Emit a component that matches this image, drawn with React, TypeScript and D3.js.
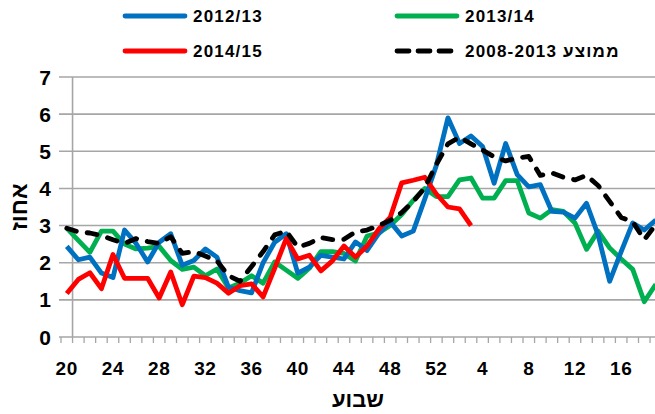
import React from "react";
import * as d3 from "d3";

// weeks of the season, from week 20 through week 19 of the next year
const weeks = [
  20, 21, 22, 23, 24, 25, 26, 27, 28, 29, 30, 31, 32, 33, 34, 35, 36, 37, 38, 39,
  40, 41, 42, 43, 44, 45, 46, 47, 48, 49, 50, 51, 52, 1, 2, 3, 4, 5, 6, 7,
  8, 9, 10, 11, 12, 13, 14, 15, 16, 17, 18, 19,
];
const tickWeeks = [20, 24, 28, 32, 36, 40, 44, 48, 52, 4, 8, 12, 16];
const yTicks = [0, 1, 2, 3, 4, 5, 6, 7];

const s2012 = [
  2.44, 2.08, 2.15, 1.72, 1.6, 2.88, 2.52, 2.02, 2.55, 2.78,
  1.93, 2.06, 2.37, 2.15, 1.34, 1.25, 1.19, 2.0, 2.55, 2.78,
  1.72, 1.88, 2.2, 2.15, 2.1, 2.56, 2.33, 2.78, 3.1, 2.72,
  2.85, 3.72, 4.62, 5.9, 5.21, 5.41, 5.13, 4.14, 5.21, 4.37,
  4.04, 4.1, 3.38, 3.36, 3.2, 3.6, 2.75, 1.5, 2.3, 3.07,
  2.88, 3.15,
];
const s2013 = [
  2.93, 2.6, 2.28, 2.85, 2.85, 2.5, 2.37, 2.39, 2.44, 2.06,
  1.82, 1.88, 1.65, 1.83, 1.32, 1.45, 1.65, 1.45, 2.02, 1.8,
  1.58, 1.85, 2.3, 2.3, 2.25, 2.05, 2.72, 2.8, 3.0, 3.3,
  3.68, 4.0, 3.78, 3.78, 4.23, 4.28, 3.74, 3.74, 4.21, 4.21,
  3.34, 3.2, 3.43, 3.38, 3.07, 2.36, 2.85, 2.4, 2.1, 1.82,
  0.95, 1.42,
];
const s2014 = [
  1.17, 1.55, 1.73, 1.3, 2.22, 1.58, 1.58, 1.58, 1.05, 1.75,
  0.87, 1.64, 1.6, 1.45, 1.18, 1.38, 1.43, 1.08, 1.85, 2.65,
  2.1, 2.2, 1.78, 2.05, 2.45, 2.15, 2.45, 2.9, 3.22, 4.15,
  4.22, 4.3, 3.85, 3.5, 3.45, 3.0,
];
const avg0813 = [
  2.93, 2.83, 2.8, 2.73, 2.62, 2.52, 2.65, 2.57, 2.52, 2.7,
  2.25, 2.3, 2.18, 2.05, 1.65, 1.5, 1.9, 2.3, 2.75, 2.85,
  2.42, 2.52, 2.68, 2.62, 2.63, 2.83, 2.88, 3.0, 3.14, 3.35,
  3.65, 4.02, 4.65, 5.2, 5.38, 5.2, 5.03, 4.85, 4.74, 4.82,
  4.86, 4.35, 4.42, 4.3, 4.23, 4.35, 4.08, 3.65, 3.22, 3.1,
  2.62, 3.03,
];

const series = [
  { name: "2012/13", values: s2012, color: "#0070C0", dash: null },
  { name: "2013/14", values: s2013, color: "#00B050", dash: null },
  { name: "2014/15", values: s2014, color: "#FF0000", dash: null },
  { name: "2008-2013 ממוצע", values: avg0813, color: "#000000", dash: "10 11" },
];

const W = 655;
const H = 414;
const font = "'Liberation Sans', Arial, sans-serif";
const gridColor = "#A6A6A6";

export default function App() {
  const keys = weeks.map((w, i) => `${i}-${w}`);
  const x = d3.scaleBand().domain(keys).range([61, 61 + 11.55 * weeks.length]).padding(0);
  const bw = x.bandwidth();
  const cx = (i: number) => (x(keys[i]) as number) + bw / 2;
  const y = d3.scaleLinear().domain([0, 7]).range([337, 77]);

  const line = d3
    .line<number>()
    .x((_, i) => cx(i))
    .y((d) => y(d));

  const yAxisX = x(keys[1]) as number;
  const left = 59;

  // draw order: green, blue, red, average on top
  const order = [1, 0, 2, 3];

  const legendRows = [
    { s: series[0], lx: 123, ly: 16 },
    { s: series[1], lx: 395, ly: 16 },
    { s: series[2], lx: 123, ly: 51 },
    { s: series[3], lx: 395, ly: 51 },
  ];

  return (
    <svg
      width={W}
      height={H}
      style={{ position: "absolute", left: 0, top: 0, background: "#fff" }}
      fontFamily={font}
    >
      {/* grid lines */}
      {yTicks.map((t) => (
        <line key={t} x1={left} x2={W} y1={y(t)} y2={y(t)} stroke={gridColor} strokeWidth={1.6} />
      ))}
      {/* y axis line */}
      <line x1={yAxisX} x2={yAxisX} y1={y(7)} y2={y(0)} stroke={gridColor} strokeWidth={1.6} />
      {/* x ticks */}
      {keys.map((k) => (
        <line
          key={k}
          x1={x(k) as number}
          x2={x(k) as number}
          y1={y(0)}
          y2={y(0) + 6}
          stroke={gridColor}
          strokeWidth={1.3}
        />
      ))}
      {yTicks.map((t) => (
        <text key={t} x={51} y={y(t)} dy="0.36em" textAnchor="end" fontSize={21} fontWeight="bold">
          {t}
        </text>
      ))}
      {tickWeeks.map((w) => {
        const i = weeks.indexOf(w);
        return (
          <text
            key={w}
            x={cx(i)}
            y={375}
            textAnchor="middle"
            fontSize={19}
            fontWeight="bold"
            letterSpacing={0.6}
          >
            {w}
          </text>
        );
      })}
      <text x={358} y={407} textAnchor="middle" fontSize={22} fontWeight="bold">
        שבוע
      </text>
      <text
        transform={`translate(27,207) rotate(-90)`}
        textAnchor="middle"
        fontSize={23}
        fontWeight="bold"
      >
        אחוז
      </text>

      {order.map((k) => {
        const s = series[k];
        return (
          <path
            key={s.name}
            d={line(s.values) || ""}
            fill="none"
            stroke={s.color}
            strokeWidth={4.8}
            strokeLinejoin="round"
            strokeLinecap={s.dash ? "round" : "butt"}
            strokeDasharray={s.dash || undefined}
          />
        );
      })}

      {/* legend */}
      {legendRows.map(({ s, lx, ly }) => (
        <g key={s.name}>
          <line
            x1={lx + 2}
            x2={lx + 62}
            y1={ly}
            y2={ly}
            stroke={s.color}
            strokeWidth={4.8}
            strokeLinecap="round"
            strokeDasharray={s.dash ? "12 9" : undefined}
          />
          <text
            x={lx + 70}
            y={ly}
            dy="0.36em"
            fontSize={17}
            fontWeight="bold"
            letterSpacing={1.2}
          >
            {s.name}
          </text>
        </g>
      ))}
    </svg>
  );
}
